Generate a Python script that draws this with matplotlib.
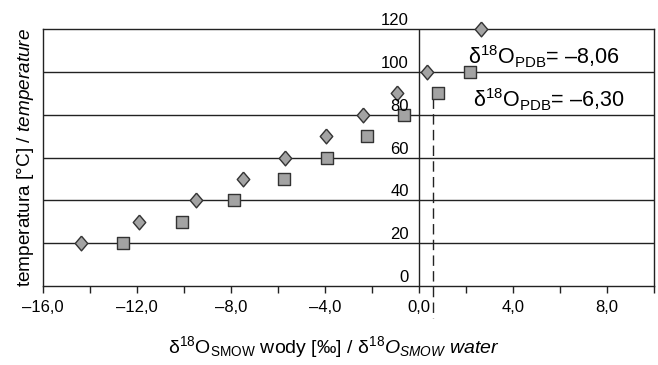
import matplotlib.pyplot as plt
from matplotlib import transforms

plt.rcParams['font.family'] = ['Liberation Sans', 'DejaVu Sans']
plt.rcParams['mathtext.fontset'] = 'custom'
plt.rcParams['mathtext.rm'] = 'Liberation Sans'
plt.rcParams['mathtext.it'] = 'Liberation Sans:italic'

# diamonds: d18O_PDB = -8.06
x_pdb806 = [-14.4, -11.9, -9.5, -7.5, -5.7, -3.95, -2.4, -0.95, 0.35, 2.65]
t_pdb806 = [20, 30, 40, 50, 60, 70, 80, 90, 100, 120]
# squares: d18O_PDB = -6.30
x_pdb630 = [-12.6, -10.1, -7.85, -5.75, -3.9, -2.2, -0.65, 0.8, 2.15]
t_pdb630 = [20, 30, 40, 50, 60, 70, 80, 90, 100]

xticks = [-16, -12, -8, -4, 0, 4, 8]
xticklabels = ['–16,0', '–12,0', '–8,0', '–4,0', '0,0', '4,0', '8,0']
yticks = [0, 20, 40, 60, 80, 100, 120]
dash_x = 0.6

fig = plt.figure(figsize=(6.58, 3.65), dpi=100)
ax = fig.add_axes([0.0653, 0.2164, 0.9286, 0.7041])
ax.set_xlim(-16, 10)
ax.set_ylim(0, 120)

for y in yticks[1:-1]:
    ax.axhline(y, color='#222222', lw=1.0, zorder=1)
ax.axvline(0, color='#222222', lw=1.0, zorder=1)
ax.plot([dash_x, dash_x], [88, -15], color='#222222', lw=1.0,
        dashes=(7.5, 3.8), clip_on=False, zorder=1)

thin_d = [(0, 1), (0.85, 0), (0, -1), (-0.85, 0), (0, 1)]
ax.scatter(x_pdb806, t_pdb806, marker=thin_d, s=10.6**2, facecolor='#a3a3a3',
           edgecolor='#333333', linewidths=1.0, zorder=3, clip_on=False)
ax.scatter(x_pdb630, t_pdb630, marker='s', s=8.2**2, facecolor='#a3a3a3',
           edgecolor='#333333', linewidths=1.0, zorder=3, clip_on=False)

ax.set_xticks(range(-16, 11, 2), minor=True)
ax.set_xticks(xticks)
ax.set_xticklabels(xticklabels, fontsize=12)
ax.tick_params(axis='x', which='both', direction='out', length=5, width=1,
               color='#222222', pad=5)
ax.set_yticks([])
for s in ax.spines.values():
    s.set_color('#222222')
    s.set_linewidth(1.0)

off = transforms.offset_copy(ax.transData, fig=fig, x=-10, y=1, units='dots')
for y in yticks:
    ax.text(0, y, str(y), transform=off, ha='right', va='bottom', fontsize=12)

ax.text(2.1, 101, 'δ$^{18}$O$_{\\rm PDB}$= –8,06', fontsize=15.5, va='bottom')
ax.text(2.3, 81, 'δ$^{18}$O$_{\\rm PDB}$= –6,30', fontsize=15.5, va='bottom')

ax.set_ylabel('temperatura [°C] / $\\it{temperature}$', fontsize=13.7, labelpad=5)
fig.text(0.508, 0.015, 'δ$^{18}$O$_{\\rm SMOW}$ wody [‰] / δ$^{18}$$\\it{O}_{SMOW}$ $\\it{water}$',
         ha='center', va='bottom', fontsize=14)

fig.savefig('out.png', dpi=100)
